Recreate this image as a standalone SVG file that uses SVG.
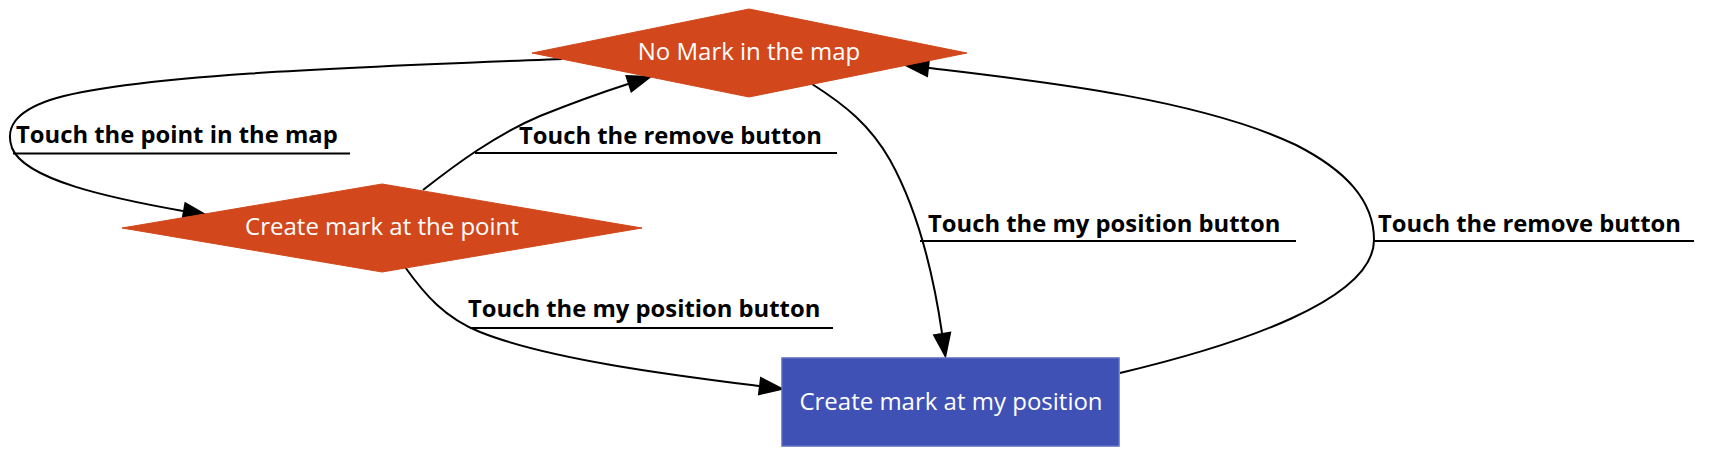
<svg xmlns="http://www.w3.org/2000/svg" width="1714" height="469" viewBox="0 0 1714 469">
<style>
.bg{fill:#ffffff}
.dia{fill:#d2481c;stroke:#d2481c;stroke-width:1}
.box{fill:#3f51b5;stroke:#5c6bc0;stroke-width:1.5}
.nt{font-family:"Open Sans","Liberation Sans",sans-serif;font-size:24px;fill:#ffffff;text-anchor:middle}
.lt{font-family:"Open Sans","Liberation Sans",sans-serif;font-size:23.8px;font-weight:bold;fill:#000000}
.edge{fill:none;stroke:#000000;stroke-width:2;marker-end:url(#ah)}
.ul{fill:none;stroke:#000000;stroke-width:2}
</style>
<defs>
<marker id="ah" markerUnits="userSpaceOnUse" markerWidth="27" markerHeight="19" refX="0" refY="9.5" orient="auto" overflow="visible">
<path d="M0,0 L26,9.5 L0,19 Z" fill="#000000"/>
</marker>
</defs>
<rect class="bg" x="0" y="0" width="1714" height="469"/>
<g id="connectors">
<path class="edge" d="M562,59 C380,66 130,74 50,100 C15,112 5,128 12,148 C25,180 110,198 183,211"/>
<path class="edge" d="M423,190 C455,165 495,135 540,116 C570,104 600,93 628,84"/>
<path class="edge" d="M812,84 C845,105 870,125 890,160 C915,205 932,265 942,333"/>
<path class="edge" d="M405,267 C425,295 445,318 480,332 C550,360 680,376 759,386"/>
<path class="edge" d="M1120,373 C1238,345 1374,300 1374,240 C1374,200 1345,170 1296,145 C1198,98 1030,80 929,68"/>
<g id="labels">
<text class="lt" x="16" y="143">Touch the point in the map</text>
<line class="ul" x1="13" y1="153.5" x2="350" y2="153.5"/>
<text class="lt" x="519" y="144">Touch the remove button</text>
<line class="ul" x1="475" y1="153" x2="837" y2="153"/>
<text class="lt" x="468" y="317">Touch the my position button</text>
<line class="ul" x1="470" y1="328" x2="833" y2="328"/>
<text class="lt" x="928" y="232">Touch the my position button</text>
<line class="ul" x1="920" y1="241" x2="1296" y2="241"/>
<text class="lt" x="1378" y="232">Touch the remove button</text>
<line class="ul" x1="1374" y1="241" x2="1694" y2="241"/>
</g>
</g>
<g id="node-nomark">
<polygon class="dia" points="532,53 749,9 967,53 749,97"/>
<text class="nt" x="749" y="60">No Mark in the map</text>
</g>
<g id="node-point">
<polygon class="dia" points="122,228 382,184 642,228 382,272"/>
<text class="nt" x="382" y="235">Create mark at the point</text>
</g>
<g id="node-myposition">
<rect class="box" x="782" y="358" width="337" height="88"/>
<text class="nt" x="951" y="410">Create mark at my position</text>
</g>
</svg>
